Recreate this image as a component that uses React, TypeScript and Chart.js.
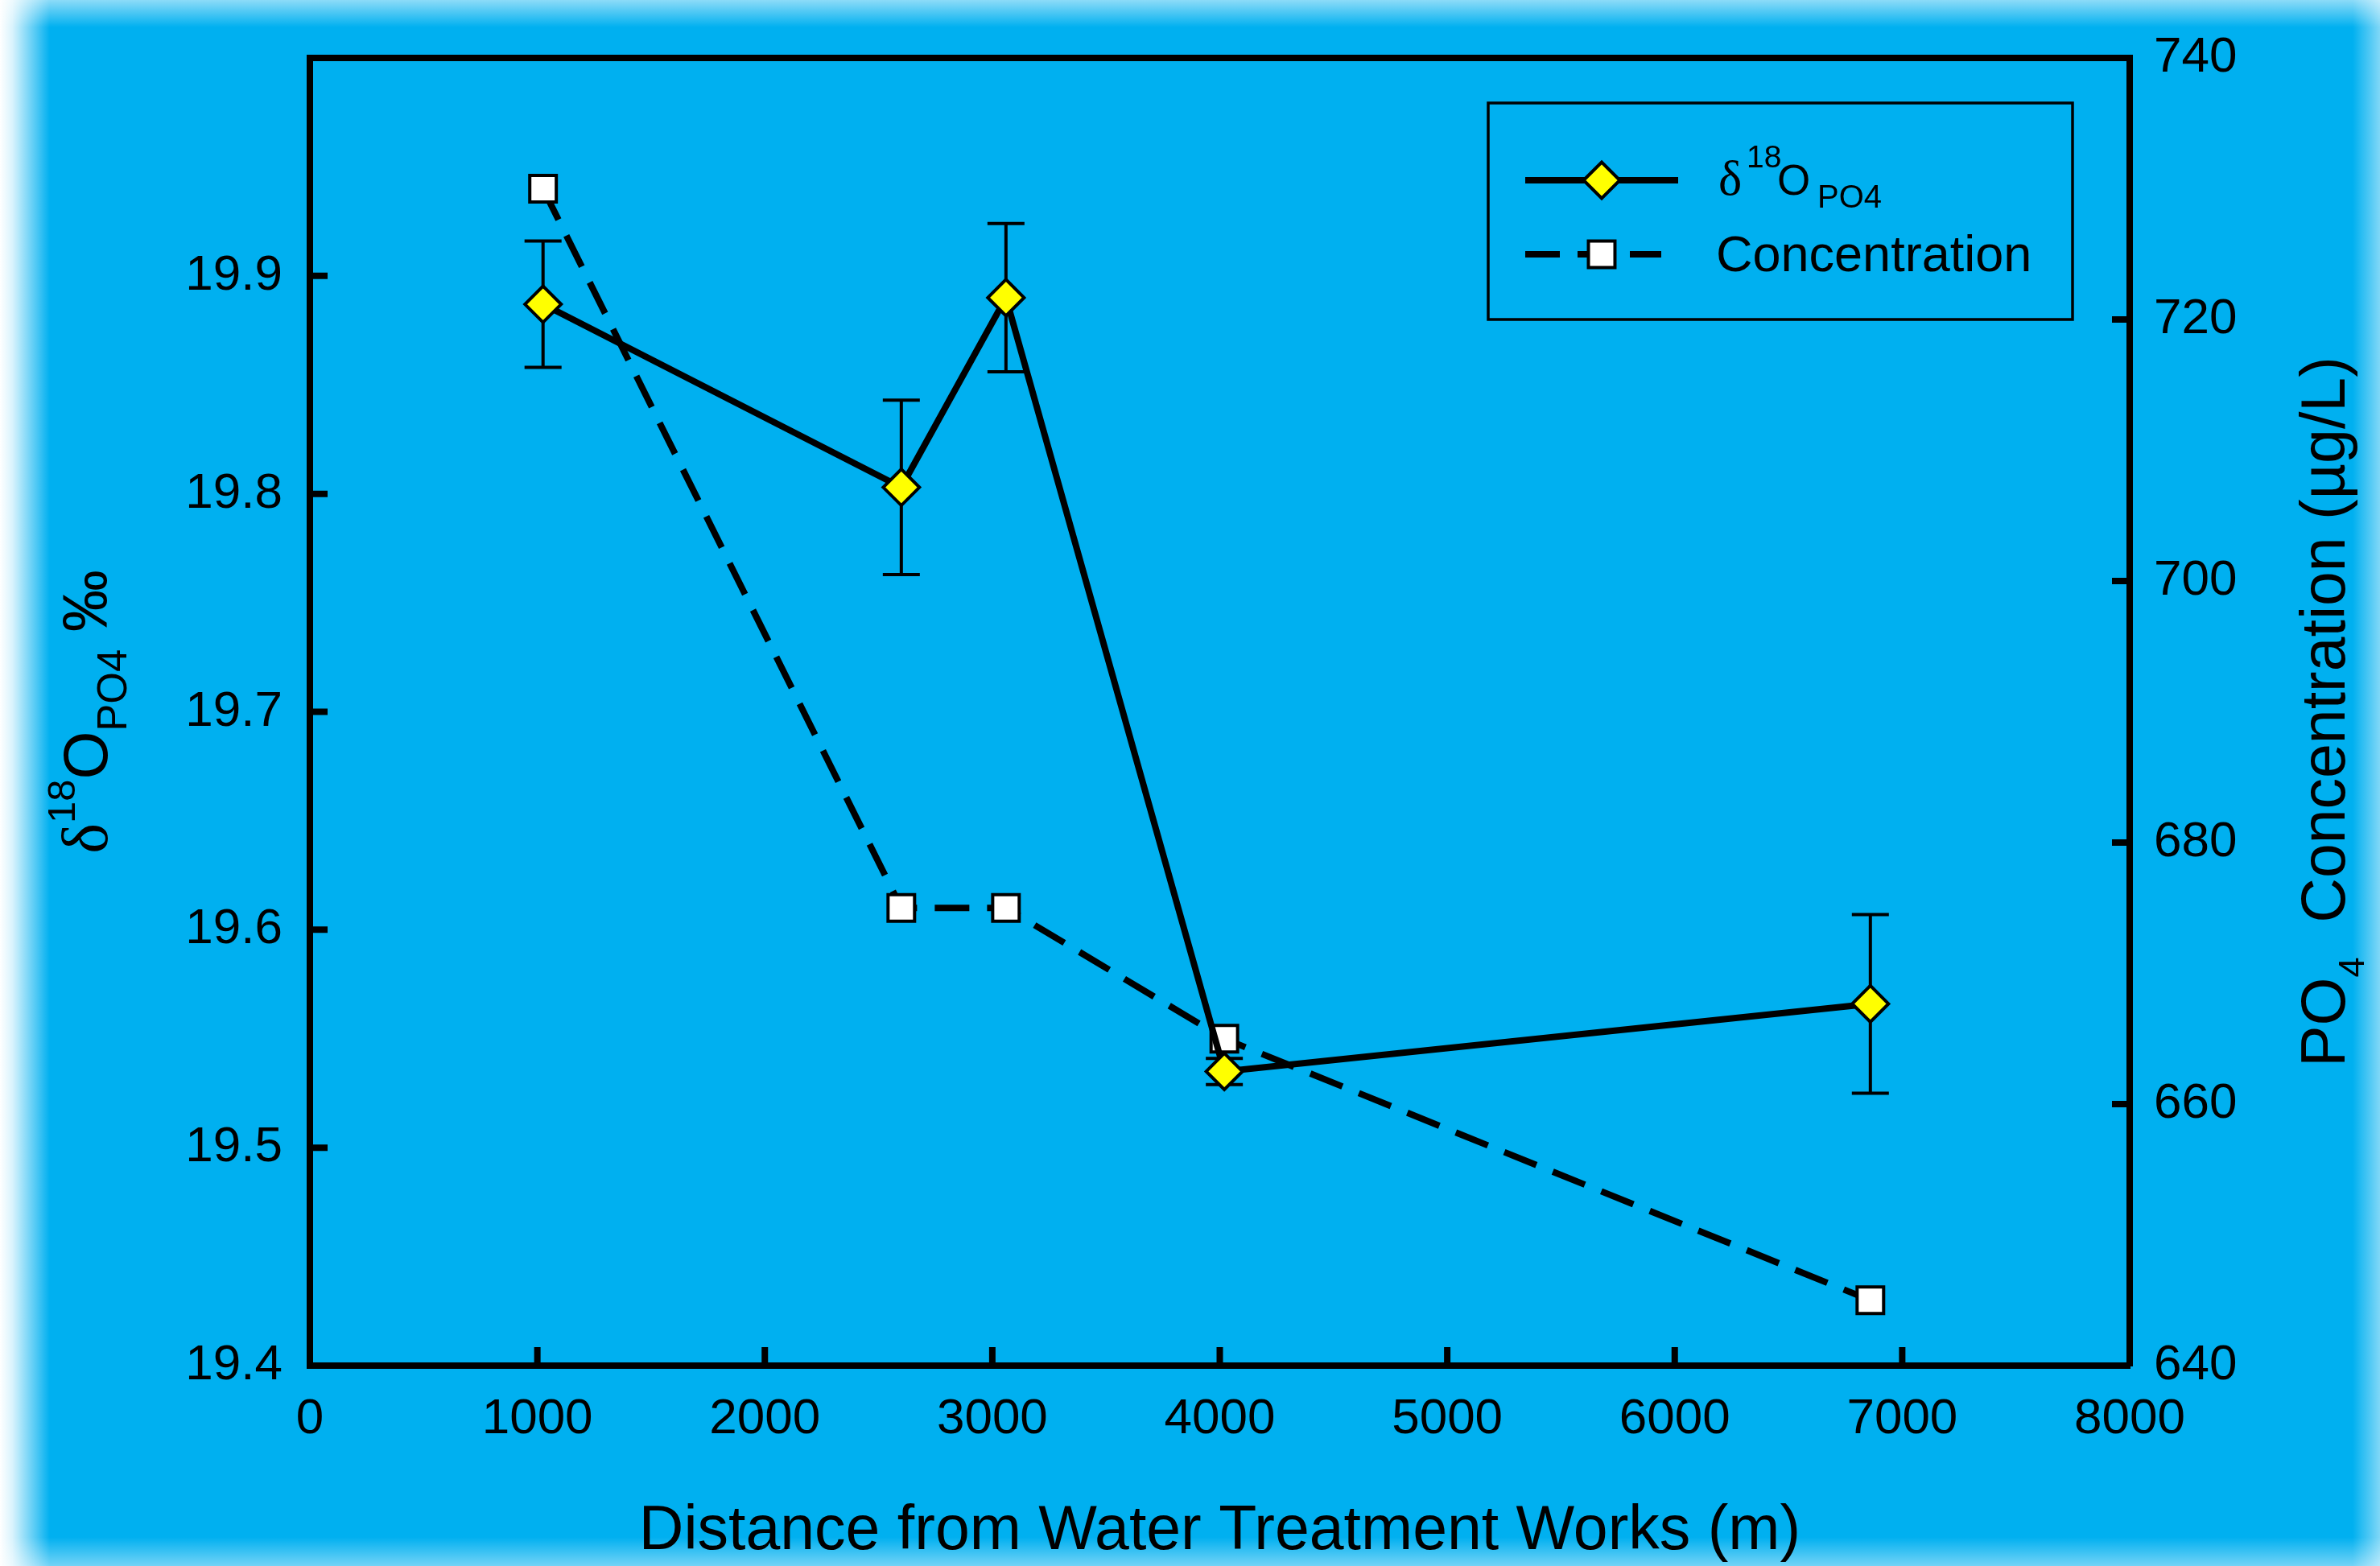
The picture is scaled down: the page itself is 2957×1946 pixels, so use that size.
import React, { useEffect, useRef } from "react";
import { Chart, registerables } from "chart.js";

Chart.register(...registerables);

// ---- data ----
const distance = [1025, 2600, 3060, 4020, 6860];
const d18O = [19.887, 19.803, 19.89, 19.535, 19.566];
const d18OErr = [0.029, 0.04, 0.034, 0.006, 0.041];
const concentration = [730, 675, 675, 665, 645];
const xTitle = "Distance from Water Treatment Works (m)";
const seriesNames = ["δ18OPO4", "Concentration"];

// ---- layout / style ----
const W = 2957;
const H = 1946;
const BLUE = "#00B0F0";
const SANS = '"Liberation Sans", Arial, sans-serif';
const SERIF = '"Liberation Serif", "Times New Roman", serif';

type Seg = { t: string; size: number; dy?: number; dx?: number; serif?: boolean };

function segFont(s: Seg) {
  return `${s.size}px ${s.serif ? SERIF : SANS}`;
}
function measureSegs(ctx: CanvasRenderingContext2D, segs: Seg[]) {
  let w = 0;
  for (const s of segs) {
    ctx.font = segFont(s);
    w += (s.dx || 0) + ctx.measureText(s.t).width;
  }
  return w;
}
function drawSegs(ctx: CanvasRenderingContext2D, segs: Seg[], x: number, y: number) {
  let cx = x;
  for (const s of segs) {
    ctx.font = segFont(s);
    cx += s.dx || 0;
    ctx.fillText(s.t, cx, y + (s.dy || 0));
    cx += ctx.measureText(s.t).width;
  }
}

function diamond(ctx: CanvasRenderingContext2D, x: number, y: number, r: number) {
  ctx.beginPath();
  ctx.moveTo(x - r, y);
  ctx.lineTo(x, y - r);
  ctx.lineTo(x + r, y);
  ctx.lineTo(x, y + r);
  ctx.closePath();
}

const backgroundPlugin = {
  id: "bgGlow",
  beforeDraw(chart: any) {
    const ctx = chart.ctx as CanvasRenderingContext2D;
    ctx.save();
    ctx.fillStyle = BLUE;
    ctx.fillRect(0, 0, W, H);
    let g = ctx.createLinearGradient(0, 0, 62, 0);
    g.addColorStop(0, "rgba(255,255,255,1)");
    g.addColorStop(0.25, "rgba(255,255,255,0.85)");
    g.addColorStop(1, "rgba(255,255,255,0)");
    ctx.fillStyle = g;
    ctx.fillRect(0, 0, 62, H);
    g = ctx.createLinearGradient(0, 0, 0, 34);
    g.addColorStop(0, "rgba(255,255,255,0.55)");
    g.addColorStop(1, "rgba(255,255,255,0)");
    ctx.fillStyle = g;
    ctx.fillRect(0, 0, W, 34);
    g = ctx.createLinearGradient(W, 0, W - 34, 0);
    g.addColorStop(0, "rgba(255,255,255,0.5)");
    g.addColorStop(1, "rgba(255,255,255,0)");
    ctx.fillStyle = g;
    ctx.fillRect(W - 34, 0, 34, H);
    g = ctx.createLinearGradient(0, H, 0, H - 36);
    g.addColorStop(0, "rgba(255,255,255,0.45)");
    g.addColorStop(1, "rgba(255,255,255,0)");
    ctx.fillStyle = g;
    ctx.fillRect(0, H - 36, W, 36);
    ctx.restore();
  },
};

const errorBarPlugin = {
  id: "errorBars",
  beforeDatasetsDraw(chart: any) {
    const ctx = chart.ctx as CanvasRenderingContext2D;
    const xs = chart.scales.x;
    const ys = chart.scales.y;
    ctx.save();
    ctx.strokeStyle = "#000";
    ctx.lineWidth = 4;
    ctx.lineCap = "butt";
    for (let i = 0; i < distance.length; i++) {
      const px = xs.getPixelForValue(distance[i]);
      const top = ys.getPixelForValue(d18O[i] + d18OErr[i]);
      const bot = ys.getPixelForValue(d18O[i] - d18OErr[i]);
      ctx.beginPath();
      ctx.moveTo(px, top);
      ctx.lineTo(px, bot);
      ctx.moveTo(px - 23, top);
      ctx.lineTo(px + 23, top);
      ctx.moveTo(px - 23, bot);
      ctx.lineTo(px + 23, bot);
      ctx.stroke();
    }
    ctx.restore();
  },
};

const frameAndTextPlugin = {
  id: "frameText",
  afterDraw(chart: any) {
    const ctx = chart.ctx as CanvasRenderingContext2D;
    const { left, right, top, bottom } = chart.chartArea;
    const xs = chart.scales.x;
    const ys = chart.scales.y;
    const y2 = chart.scales.y2;
    ctx.save();
    ctx.strokeStyle = "#000";
    ctx.lineCap = "butt";
    ctx.lineWidth = 8;
    // top frame line
    ctx.beginPath();
    ctx.moveTo(left - 4, top);
    ctx.lineTo(right + 4, top);
    ctx.stroke();
    // inward tick marks
    ctx.beginPath();
    for (const t of xs.ticks) {
      const p = xs.getPixelForValue(t.value);
      ctx.moveTo(p, bottom);
      ctx.lineTo(p, bottom - 23);
    }
    for (const t of ys.ticks) {
      const p = ys.getPixelForValue(t.value);
      ctx.moveTo(left, p);
      ctx.lineTo(left + 22, p);
    }
    for (const t of y2.ticks) {
      const p = y2.getPixelForValue(t.value);
      ctx.moveTo(right, p);
      ctx.lineTo(right - 22, p);
    }
    ctx.stroke();

    ctx.fillStyle = "#000";
    ctx.textBaseline = "alphabetic";
    ctx.textAlign = "left";

    // x title
    const xt: Seg[] = [{ t: xTitle, size: 77 }];
    const xw = measureSegs(ctx, xt);
    drawSegs(ctx, xt, (left + right) / 2 - xw / 2, 1925);

    // left title
    const lt: Seg[] = [
      { t: "δ", size: 80, serif: true },
      { t: "18", size: 49, dy: -40 },
      { t: "O", size: 77 },
      { t: "PO4", size: 51, dy: 24 },
      { t: " ‰", size: 77 },
    ];
    const lw = measureSegs(ctx, lt);
    ctx.save();
    ctx.translate(133, (top + bottom) / 2);
    ctx.rotate(-Math.PI / 2);
    drawSegs(ctx, lt, -lw / 2, 0);
    ctx.restore();

    // right title
    const rt: Seg[] = [
      { t: "PO", size: 77 },
      { t: "4", size: 45, dy: 24 },
      { t: "  Concentration (µg/L)", size: 77 },
    ];
    const rw = measureSegs(ctx, rt);
    ctx.save();
    ctx.translate(2913, (top + bottom) / 2);
    ctx.rotate(-Math.PI / 2);
    drawSegs(ctx, rt, -rw / 2, 0);
    ctx.restore();

    // legend
    ctx.lineWidth = 3.5;
    ctx.strokeRect(1849, 128, 726, 269);
    const ds0 = chart.data.datasets[0];
    const ds1 = chart.data.datasets[1];
    // row 1
    ctx.lineWidth = ds0.borderWidth;
    ctx.setLineDash([]);
    ctx.beginPath();
    ctx.moveTo(1895, 224);
    ctx.lineTo(2085, 224);
    ctx.stroke();
    diamond(ctx, 1990, 224, ds0.pointRadius);
    ctx.fillStyle = ds0.pointBackgroundColor;
    ctx.fill();
    ctx.lineWidth = ds0.pointBorderWidth;
    ctx.stroke();
    // row 2
    ctx.lineWidth = ds1.borderWidth;
    ctx.setLineDash(ds1.borderDash);
    ctx.beginPath();
    ctx.moveTo(1895, 316);
    ctx.lineTo(2064, 316);
    ctx.stroke();
    ctx.setLineDash([]);
    const hs = Math.SQRT1_2 * ds1.pointRadius;
    ctx.fillStyle = ds1.pointBackgroundColor;
    ctx.fillRect(1990 - hs, 316 - hs, 2 * hs, 2 * hs);
    ctx.lineWidth = ds1.pointBorderWidth;
    ctx.strokeRect(1990 - hs, 316 - hs, 2 * hs, 2 * hs);

    ctx.fillStyle = "#000";
    const name0 = seriesNames[0];
    ctx.font = `62px ${SERIF}`;
    ctx.fillText(name0.slice(0, 1), 2135, 242);
    ctx.font = `39px ${SANS}`;
    ctx.fillText(name0.slice(1, 3), 2170, 208);
    ctx.font = `53px ${SANS}`;
    ctx.fillText(name0.slice(3, 4), 2208, 242);
    ctx.font = `40px ${SANS}`;
    ctx.fillText(name0.slice(4), 2258, 258);
    ctx.font = `63px ${SANS}`;
    ctx.fillText(seriesNames[1], 2132, 337);

    ctx.restore();
  },
};

export default function App() {
  const ref = useRef<HTMLCanvasElement | null>(null);

  useEffect(() => {
    if (!ref.current) return;
    Chart.defaults.font.family = SANS;
    Chart.defaults.color = "#000";
    const chart = new Chart(ref.current, {
      type: "line",
      data: {
        datasets: [
          {
            label: seriesNames[0],
            data: distance.map((x, i) => ({ x, y: d18O[i] })),
            yAxisID: "y",
            borderColor: "#000",
            borderWidth: 8,
            pointStyle: "rectRot",
            pointRadius: 22.5,
            pointBackgroundColor: "#FFFF00",
            pointBorderColor: "#000",
            pointBorderWidth: 4,
            tension: 0,
            fill: false,
          },
          {
            label: seriesNames[1],
            data: distance.map((x, i) => ({ x, y: concentration[i] })),
            yAxisID: "y2",
            borderColor: "#000",
            borderWidth: 8,
            borderDash: [43, 22],
            pointStyle: "rect",
            pointRadius: 23.3,
            pointBackgroundColor: "#FFFFFF",
            pointBorderColor: "#000",
            pointBorderWidth: 4,
            tension: 0,
            fill: false,
          },
        ] as any,
      },
      options: {
        animation: false,
        responsive: false,
        devicePixelRatio: 1,
        layout: { padding: { top: 72, left: 0, right: 0, bottom: 0 } },
        plugins: { legend: { display: false }, tooltip: { enabled: false } },
        scales: {
          x: {
            type: "linear",
            position: "bottom",
            min: 0,
            max: 8000,
            ticks: {
              stepSize: 1000,
              font: { size: 62 },
              color: "#000",
              padding: 30,
              autoSkip: false,
              maxRotation: 0,
              callback: (v: any) => String(Math.round(Number(v))),
            },
            grid: { drawOnChartArea: false, drawTicks: false, color: "rgba(0,0,0,0)" },
            border: { display: true, color: "#000", width: 8 },
            afterFit: (s: any) => {
              s.height = 249;
            },
          },
          y: {
            type: "linear",
            position: "left",
            min: 19.4,
            max: 20.0,
            ticks: {
              stepSize: 0.1,
              font: { size: 62 },
              color: "#000",
              padding: 34,
              callback: (v: any) => (Math.abs(Number(v) - 20) < 1e-6 ? "" : Number(v).toFixed(1)),
            },
            grid: { drawOnChartArea: false, drawTicks: false, color: "rgba(0,0,0,0)" },
            border: { display: true, color: "#000", width: 8 },
            afterFit: (s: any) => {
              s.width = 385;
            },
          },
          y2: {
            type: "linear",
            position: "right",
            min: 640,
            max: 740,
            ticks: {
              stepSize: 20,
              font: { size: 62 },
              color: "#000",
              padding: 30,
              callback: (v: any) => String(Math.round(Number(v))),
            },
            grid: { drawOnChartArea: false, drawTicks: false, color: "rgba(0,0,0,0)" },
            border: { display: true, color: "#000", width: 8 },
            afterFit: (s: any) => {
              s.width = W - 2646;
            },
          },
        },
      } as any,
      plugins: [backgroundPlugin, errorBarPlugin, frameAndTextPlugin],
    });
    return () => chart.destroy();
  }, []);

  return (
    <div style={{ position: "fixed", left: 0, top: 0, width: W, height: H, overflow: "hidden" }}>
      <canvas ref={ref} width={W} height={H} style={{ display: "block", width: W, height: H }} />
    </div>
  );
}
